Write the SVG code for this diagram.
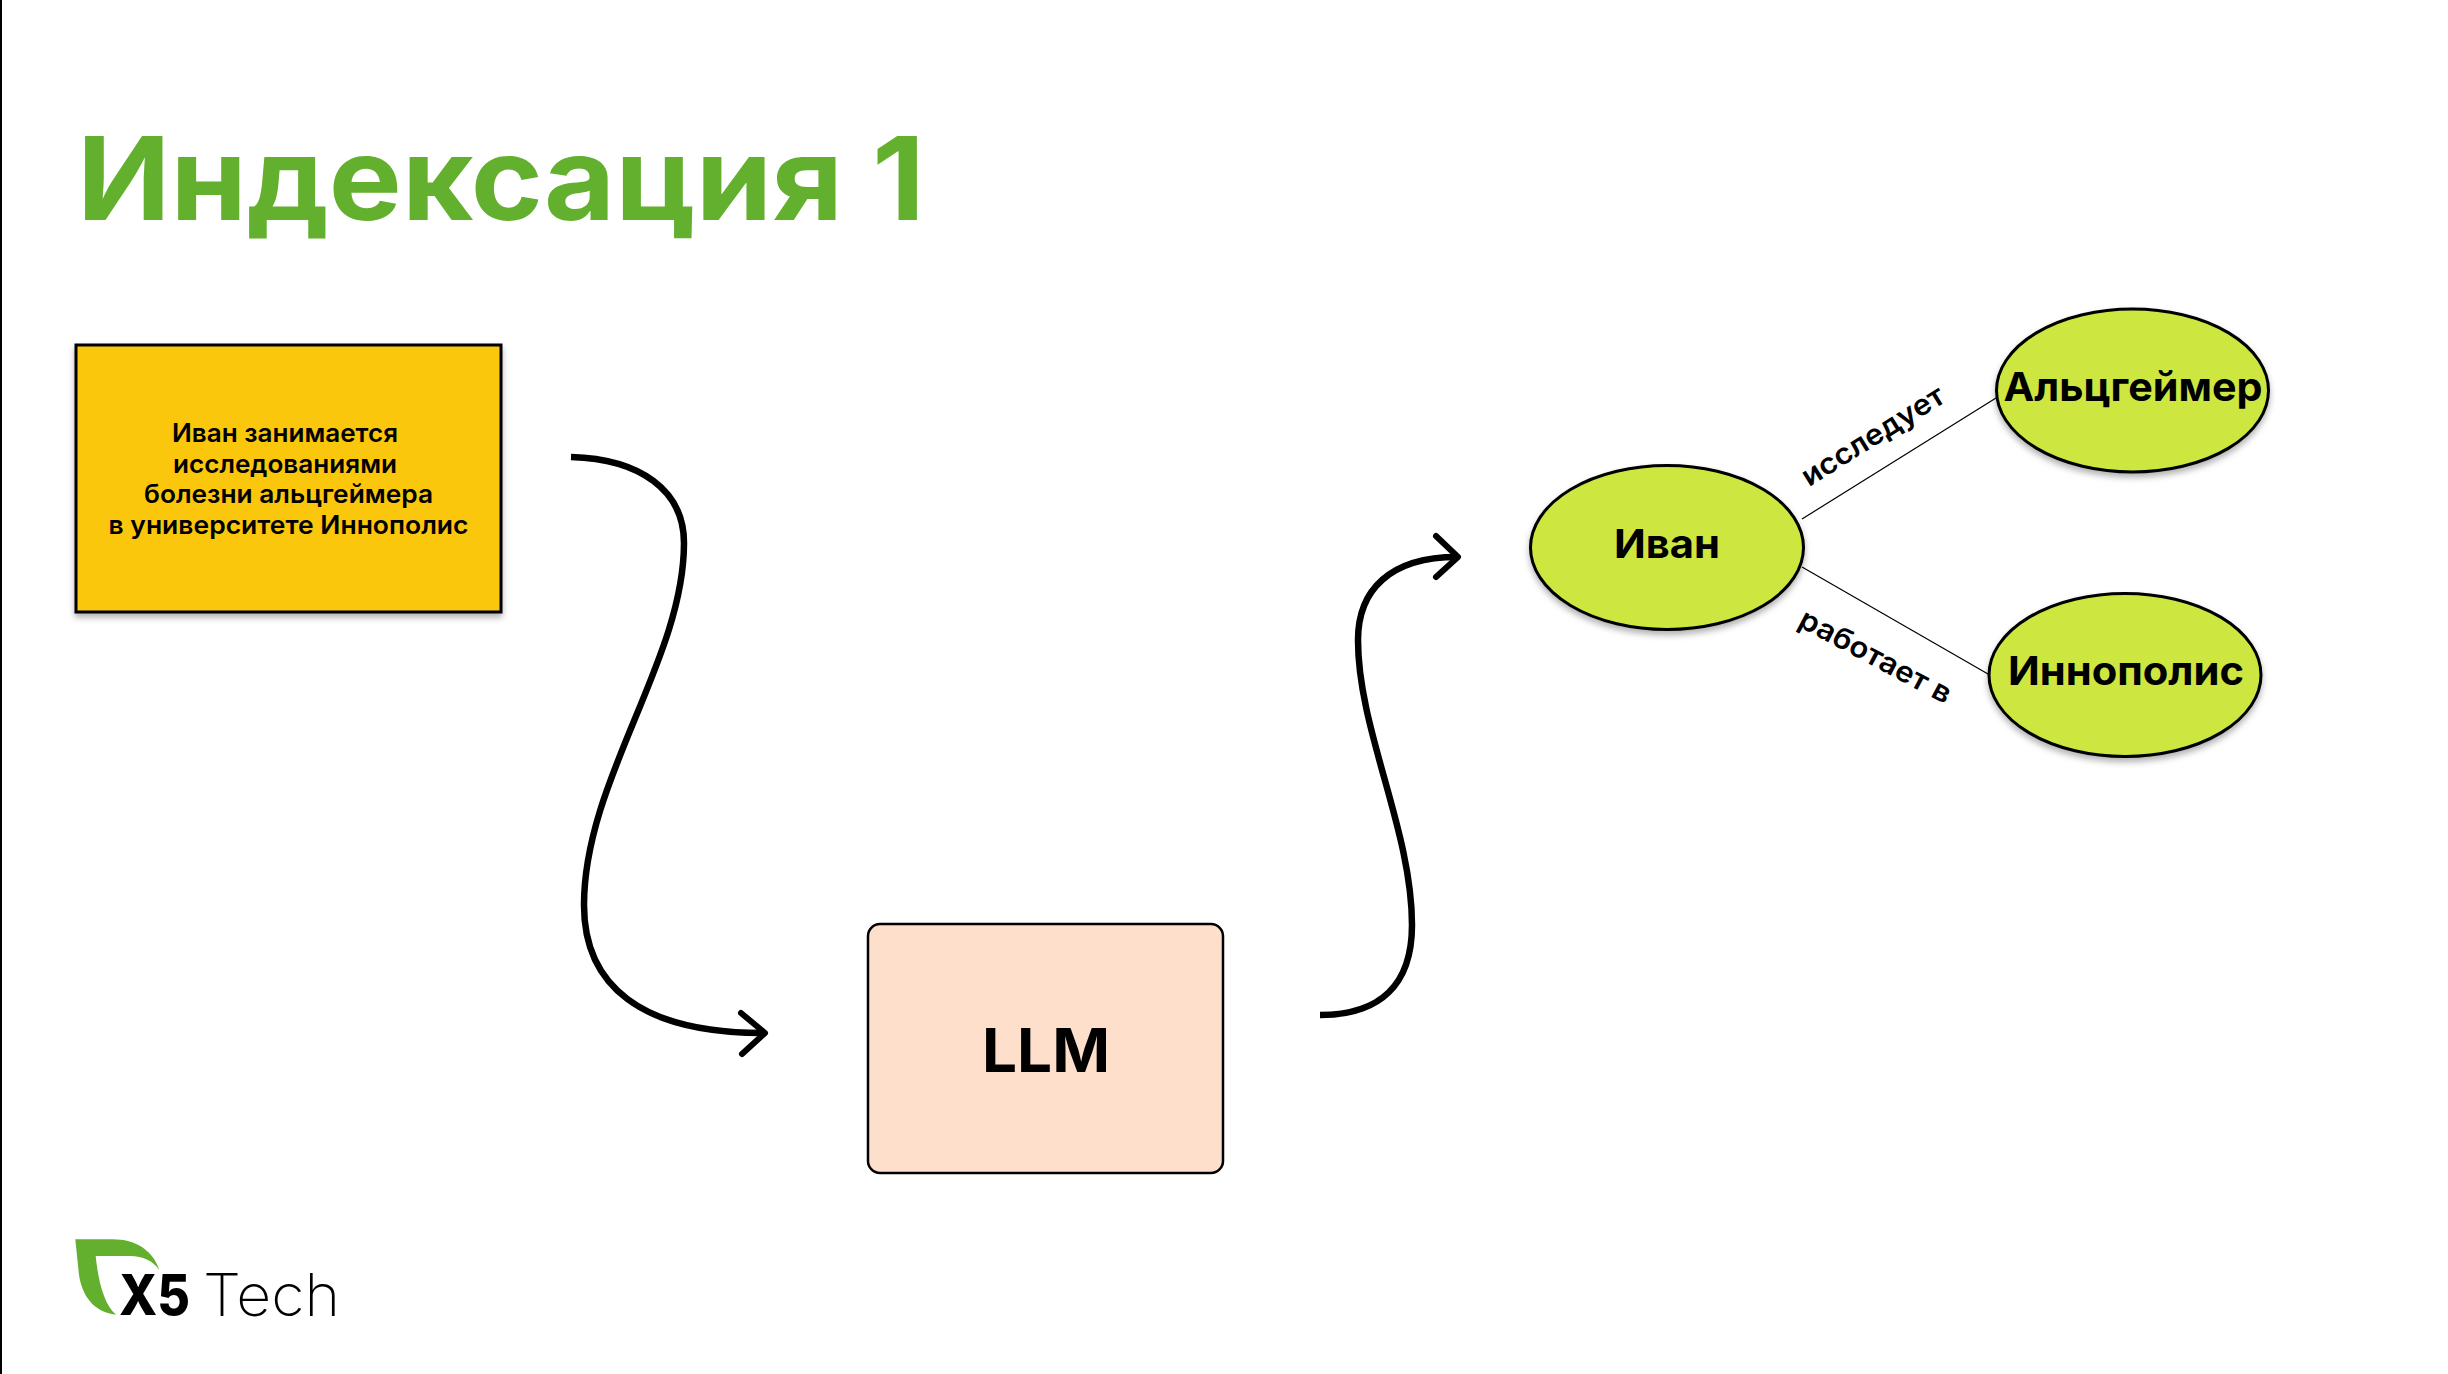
<svg xmlns="http://www.w3.org/2000/svg" width="2448" height="1374" viewBox="0 0 2448 1374">
<style>
text{font-family:Inter,"Liberation Sans",sans-serif;fill:#000}
.t{font-weight:700;text-anchor:middle}
.n{font-size:40px}
.b{font-size:25.500px;font-weight:600}
.e{font-size:29px;font-weight:600}
.nd{fill:#cde63f;stroke:#000;stroke-width:3;filter:url(#s)}
.c{fill:none;stroke:#000;stroke-width:6.500;stroke-linecap:butt}
.h{fill:none;stroke:#000;stroke-width:6;stroke-linecap:round;stroke-linejoin:round}
.l{stroke:#000;stroke-width:1.200;fill:none}
</style>
<defs><filter id="s" x="-10%" y="-10%" width="120%" height="125%"><feDropShadow dx="0" dy="4" stdDeviation="3" flood-color="#000" flood-opacity=".3"/></filter></defs>
<rect width="2448" height="1374" fill="#fff"/>
<rect x="0" y="0" width="2" height="1374" fill="#000"/>
<text x="77" y="220" textLength="848" lengthAdjust="spacingAndGlyphs" style="font-size:116px;font-weight:700;fill:#63b02f">Индексация 1</text>
<g id="connectors">
<path class="c" d="M571 457C640 459 684 490 684 543C684 660 584 780 584 905C584 985 640 1033 763 1033"/>
<path class="h" d="M741 1013L765 1033L742 1054"/>
<path class="c" d="M1320 1015C1380 1015 1412 985 1412 925C1412 830 1358 730 1358 640C1358 590 1390 557 1457 557"/>
<path class="h" d="M1436 536L1458 557L1436 577"/>
<path class="l" d="M1802 519L1996 398"/>
<path class="l" d="M1802 567L1988 674"/>
</g>
<g id="node-text"><rect x="76" y="345" width="425" height="267" fill="#fac710" stroke="#000" stroke-width="3" filter="url(#s)"/>
<text class="t b" x="285" y="442" textLength="226" lengthAdjust="spacingAndGlyphs">Иван занимается</text>
<text class="t b" x="285" y="472.500" textLength="224" lengthAdjust="spacingAndGlyphs">исследованиями</text>
<text class="t b" x="288.500" y="503" textLength="289" lengthAdjust="spacingAndGlyphs">болезни альцгеймера</text>
<text class="t b" x="288.500" y="534" textLength="360" lengthAdjust="spacingAndGlyphs">в университете Иннополис</text></g>
<g id="node-llm"><rect x="868" y="924" width="355" height="249" rx="12" fill="#fddfcb" stroke="#000" stroke-width="2.500"/>
<text class="t" x="1046" y="1072" textLength="128" lengthAdjust="spacingAndGlyphs" style="font-size:60px">LLM</text></g>
<g id="node-ivan"><ellipse class="nd" cx="1667" cy="547.500" rx="136.500" ry="82"/><text class="t n" x="1667" y="558" textLength="106" lengthAdjust="spacingAndGlyphs">Иван</text></g>
<g id="node-alz"><ellipse class="nd" cx="2132.500" cy="390.500" rx="136" ry="81.500"/><text class="t n" x="2133" y="401" textLength="259" lengthAdjust="spacingAndGlyphs">Альцгеймер</text></g>
<g id="node-inn"><ellipse class="nd" cx="2125" cy="675" rx="136" ry="81.500"/><text class="t n" x="2126" y="685" textLength="236" lengthAdjust="spacingAndGlyphs">Иннополис</text></g>
<text class="t e" transform="translate(1878 444) rotate(-32)" textLength="163" lengthAdjust="spacingAndGlyphs">исследует</text>
<text class="t e" transform="translate(1871 665) rotate(28)" textLength="168" lengthAdjust="spacingAndGlyphs">работает в</text>
<g id="logo">
<path d="M75.300 1239.300H113C135 1239.300 153 1250 159.300 1270C153 1261 143 1256 130 1256H95.700C98 1280 104 1305 116 1314.700C93 1312 82 1295 79 1275Z" fill="#63b02f"/>
<text x="119" y="1315" textLength="71" lengthAdjust="spacingAndGlyphs" style="font-size:56px;font-weight:800">X5</text>
<text x="203" y="1316" textLength="137" lengthAdjust="spacingAndGlyphs" style="font-size:59px;font-weight:200">Tech</text>
</g>
</svg>
